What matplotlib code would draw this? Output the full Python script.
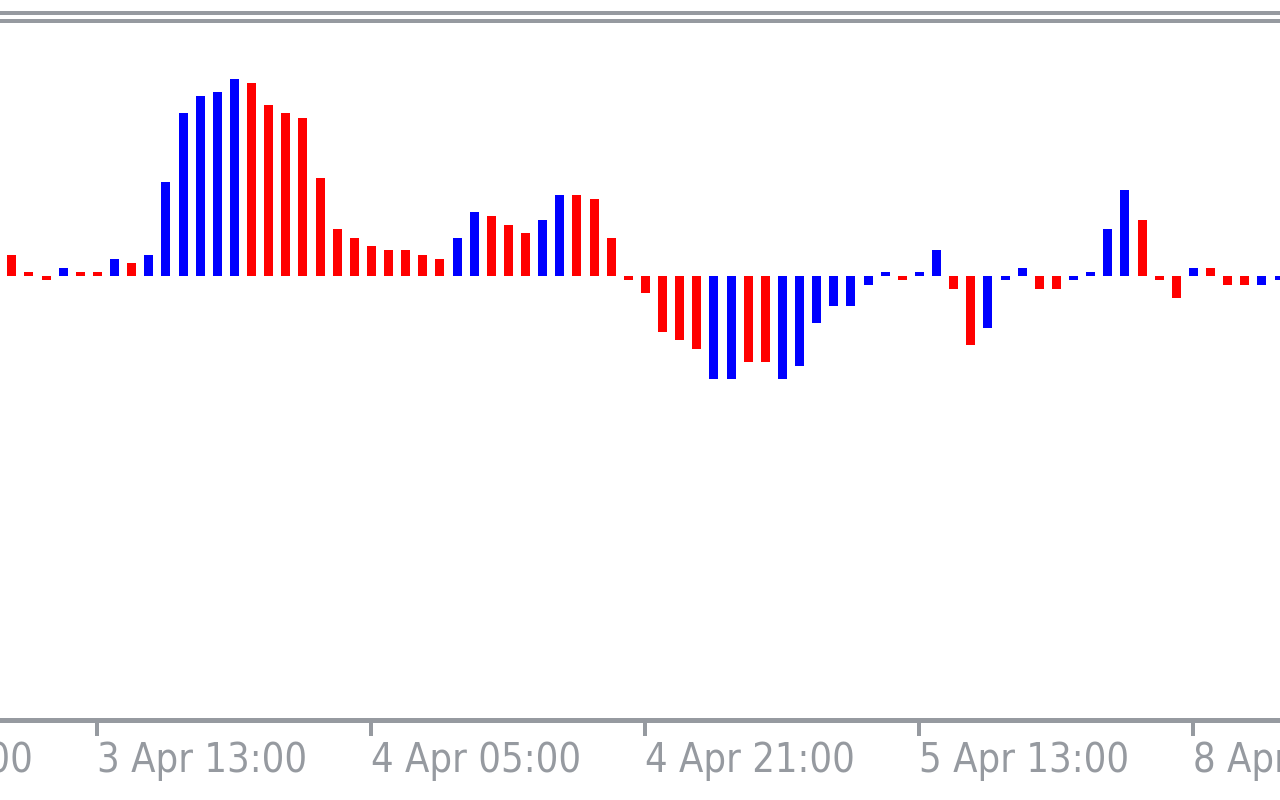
import matplotlib
matplotlib.use("Agg")
import matplotlib.pyplot as plt
import matplotlib.transforms as mtransforms
from matplotlib.lines import Line2D

# histogram values, one bar per hour (indicator units)
values = [
    21, 4, -4, 8, 4, 4, 17, 13, 21, 94,
    163, 180, 184, 197, 193, 171, 163, 158, 98, 47,
    38, 30, 26, 26, 21, 17, 38, 64, 60, 51,
    43, 56, 81, 81, 77, 38, -4, -17, -56, -64,
    -73, -103, -103, -86, -86, -103, -90, -47, -30, -30,
    -9, 4, -4, 4, 26, -13, -69, -52, -4, 8,
    -13, -13, -4, 4, 47, 86, 56, -4, -22, 8,
    8, -9, -9, -9, -4,
]
# 'b' = blue bar, 'r' = red bar
bar_colors = (
    "rrrbrrbrbb"
    "bbbbrrrrrr"
    "rrrrrrbbrr"
    "rbbrrrrrrr"
    "rbbrrbbbbb"
    "bbrbbrrbbb"
    "rrbbbbrrrb"
    "rrrbb"
)
tick_pos = [5, 21, 37, 53, 69]
tick_labels = ["3 Apr 13:00", "4 Apr 05:00", "4 Apr 21:00",
               "5 Apr 13:00", "8 Apr 05:00"]
# label of the tick just left of the view, only its tail shows
prev_pos = -11
prev_label = "2 Apr 21:00"

GRAY = "#969aa0"
W, H = 1280, 800
DPI = 100
PX = 72.0 / DPI  # points per pixel
FONT = ["Liberation Sans Narrow", "DejaVu Sans"]
FSIZE = 28.5

fig = plt.figure(figsize=(W / DPI, H / DPI), dpi=DPI)
fig.patch.set_facecolor("white")

# axes spans the full width, from the top frame lines to the time axis
ax_top, ax_bot = 13, 720
ax = fig.add_axes([0, (H - ax_bot) / H, 1, (ax_bot - ax_top) / H])

cmap = {"b": "#0000ff", "r": "#ff0000"}
x = list(range(len(values)))
ax.bar(x, values, width=0.526, color=[cmap[c] for c in bar_colors],
       linewidth=0, zorder=2)

for s in ["top", "left", "right"]:
    ax.spines[s].set_visible(False)
ax.spines["bottom"].set_color(GRAY)
ax.spines["bottom"].set_linewidth(5 * PX)
ax.set_yticks([])

tick_len = 16
pad = 5
ax.set_xticks(tick_pos)
ax.set_xticklabels(tick_labels, ha="left")
ax.tick_params(axis="x", length=tick_len * PX, width=4 * PX, color=GRAY,
               direction="out", pad=pad * PX, labelcolor=GRAY,
               labelsize=FSIZE)
for lbl in ax.get_xticklabels():
    lbl.set_fontfamily(FONT)
    lbl.set_fontstretch("condensed")
    lbl.set_clip_on(False)

# 17.125 px per bar, first bar centred at 11.8 px (set after ticks)
pitch = 17.125
x0 = 11.8
ax.set_xlim(-x0 / pitch, (W - x0) / pitch)
zero_y = 276
ax.set_ylim(-(ax_bot - zero_y), zero_y - ax_top)

# cut-off label at the left edge, placed like a tick label
trans = mtransforms.blended_transform_factory(ax.transData, ax.transAxes)
trans = trans + mtransforms.ScaledTranslation(
    0, -(tick_len + pad) / DPI, fig.dpi_scale_trans)
ax.text(prev_pos, 0, prev_label, transform=trans, ha="left", va="top",
        color=GRAY, fontsize=FSIZE, fontfamily=FONT,
        fontstretch="condensed", clip_on=False)

# the two grey frame lines along the top
for y in (13, 21):
    fig.add_artist(Line2D([0, 1], [1 - y / H, 1 - y / H],
                          transform=fig.transFigure, color=GRAY,
                          linewidth=4 * PX, solid_capstyle="butt"))

fig.savefig("out.png", dpi=DPI, facecolor="white")
